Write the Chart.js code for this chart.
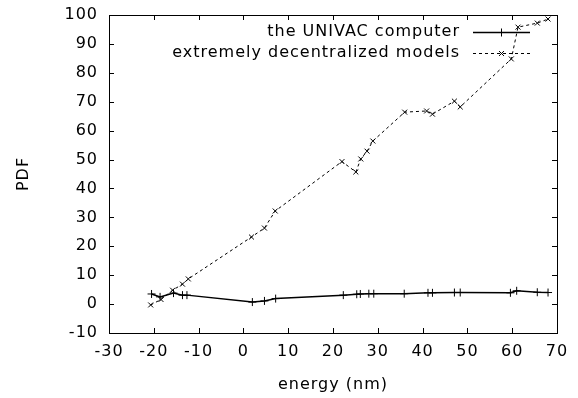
<!DOCTYPE html>
<html>
<head>
<meta charset="utf-8">
<script src="https://cdn.jsdelivr.net/npm/chart.js@4/dist/chart.umd.min.js"></script>
<style>
  html, body { margin: 0; padding: 0; background: #fff; }
</style>
</head>
<body>
<canvas id="pdfChart" width="578" height="398"></canvas>
<script>
// values
const univacEnergy = [-20.5, -18.6, -15.6, -13.6, -12.6, 2.0, 4.7, 7.2, 22.3, 25.3, 26.1, 28.0, 29.1, 35.9, 41.2, 42.2, 47.1, 48.4, 59.6, 61.0, 65.6, 68.0];
const univacPdf = [3.5, 2.5, 3.8, 3.1, 3.1, 0.7, 1.1, 1.9, 3.1, 3.4, 3.5, 3.6, 3.6, 3.6, 3.9, 3.9, 4.0, 4.0, 3.9, 4.6, 4.1, 4.0];

const decentEnergy = [-20.7, -18.4, -15.8, -13.6, -12.3, 1.8, 4.7, 7.1, 22.0, 25.1, 26.2, 27.6, 28.9, 36.0, 40.9, 42.2, 47.1, 48.4, 59.8, 61.3, 65.6, 68.0];
const decentPdf = [-0.3, 1.6, 4.8, 6.9, 8.7, 23.2, 26.3, 32.2, 49.3, 45.7, 50.2, 52.9, 56.4, 66.4, 66.8, 65.7, 70.2, 68.2, 84.8, 95.8, 97.2, 98.6];

const seriesNames = ['the UNIVAC computer', 'extremely decentralized models'];

const FAMILY = '"DejaVu Sans", Arial, sans-serif';
const FONT_SIZE = 16;
const FONT = FONT_SIZE + 'px ' + FAMILY;

function toPoints(xs, ys) {
    return xs.map((x, i) => ({x: x, y: ys[i]}));
}

// the reference uses a wide bitmap font, widen the text a bit
const spacingPlugin = {
    id: 'spacing',
    beforeUpdate(chart) { chart.ctx.letterSpacing = '1px'; },
    beforeDraw(chart) { chart.ctx.letterSpacing = '1px'; }
};

// gnuplot style: full frame, inward ticks on all four sides, key top right
const framePlugin = {
    id: 'frame',
    afterDatasetsDraw(chart) {
        const ctx = chart.ctx;
        const a = chart.chartArea;
        const xs = chart.scales.x;
        const ys = chart.scales.y;
        const tick = 5;
        ctx.save();
        ctx.strokeStyle = '#000';
        ctx.lineWidth = 1;
        ctx.strokeRect(Math.round(a.left) + 0.5, Math.round(a.top) + 0.5,
            Math.round(a.right - a.left), Math.round(a.bottom - a.top));
        ctx.beginPath();
        xs.ticks.forEach(t => {
            const px = Math.round(xs.getPixelForValue(t.value)) + 0.5;
            ctx.moveTo(px, a.bottom); ctx.lineTo(px, a.bottom - tick);
            ctx.moveTo(px, a.top); ctx.lineTo(px, a.top + tick);
        });
        ys.ticks.forEach(t => {
            const py = Math.round(ys.getPixelForValue(t.value)) + 0.5;
            ctx.moveTo(a.left, py); ctx.lineTo(a.left + tick, py);
            ctx.moveTo(a.right, py); ctx.lineTo(a.right - tick, py);
        });
        ctx.stroke();

        // key
        ctx.font = FONT;
        ctx.letterSpacing = '1px';
        ctx.fillStyle = '#000';
        ctx.textAlign = 'right';
        ctx.textBaseline = 'middle';
        chart.data.datasets.forEach((ds, i) => {
            const y = a.top + 17 + i * 21;
            const textRight = a.right - 97;
            const x0 = a.right - 84, x1 = a.right - 27;
            ctx.fillText(ds.label, textRight, y);
            ctx.beginPath();
            ctx.lineWidth = ds.borderWidth;
            ctx.setLineDash(ds.borderDash || []);
            ctx.moveTo(x0, Math.round(y) + 0.5);
            ctx.lineTo(x1, Math.round(y) + 0.5);
            ctx.stroke();
            ctx.setLineDash([]);
            ctx.lineWidth = 1;
            Chart.helpers.drawPoint(ctx, {pointStyle: ds.pointStyle, radius: ds.pointRadius, borderWidth: 1, rotation: 0}, (x0 + x1) / 2, Math.round(y) + 0.5);
        });
        ctx.restore();
    }
};

const axisFont = {family: FAMILY, size: FONT_SIZE};

const pdfChart = new Chart(document.getElementById('pdfChart').getContext('2d'), {
    type: 'scatter',
    data: {
        datasets: [
            {
                label: seriesNames[0],
                data: toPoints(univacEnergy, univacPdf),
                showLine: true,
                borderColor: '#000',
                backgroundColor: '#000',
                borderWidth: 1.5,
                pointStyle: 'cross',
                pointRadius: 4,
                pointBorderWidth: 1,
                pointBorderColor: '#000'
            },
            {
                label: seriesNames[1],
                data: toPoints(decentEnergy, decentPdf),
                showLine: true,
                borderColor: '#000',
                backgroundColor: '#000',
                borderWidth: 1,
                borderDash: [3, 3],
                pointStyle: 'crossRot',
                pointRadius: 3.5,
                pointBorderWidth: 1,
                pointBorderColor: '#000'
            }
        ]
    },
    options: {
        responsive: false,
        animation: false,
        layout: {padding: {left: 0, right: 21, top: 15, bottom: 0}},
        plugins: {
            legend: {display: false},
            tooltip: {enabled: false}
        },
        scales: {
            x: {
                type: 'linear',
                min: -30,
                max: 70,
                afterFit(scale) {
                    scale.height = 65;
                    scale.paddingLeft = 0;
                    scale.paddingRight = 0;
                },
                ticks: {stepSize: 10, color: '#000', font: axisFont, padding: 9, maxRotation: 0},
                grid: {drawOnChartArea: false, drawTicks: false},
                border: {display: false},
                title: {display: true, text: 'energy (nm)', color: '#000', font: axisFont, padding: {top: 4, bottom: 4}}
            },
            y: {
                type: 'linear',
                min: -10,
                max: 100,
                afterFit(scale) {
                    scale.width = 109;
                    scale.paddingTop = 0;
                    scale.paddingBottom = 0;
                },
                ticks: {stepSize: 10, color: '#000', font: axisFont, padding: 11},
                grid: {drawOnChartArea: false, drawTicks: false},
                border: {display: false},
                title: {display: true, text: 'PDF', color: '#000', font: axisFont, padding: {top: 14, bottom: 4}}
            }
        }
    },
    plugins: [spacingPlugin, framePlugin]
});
</script>
</body>
</html>
